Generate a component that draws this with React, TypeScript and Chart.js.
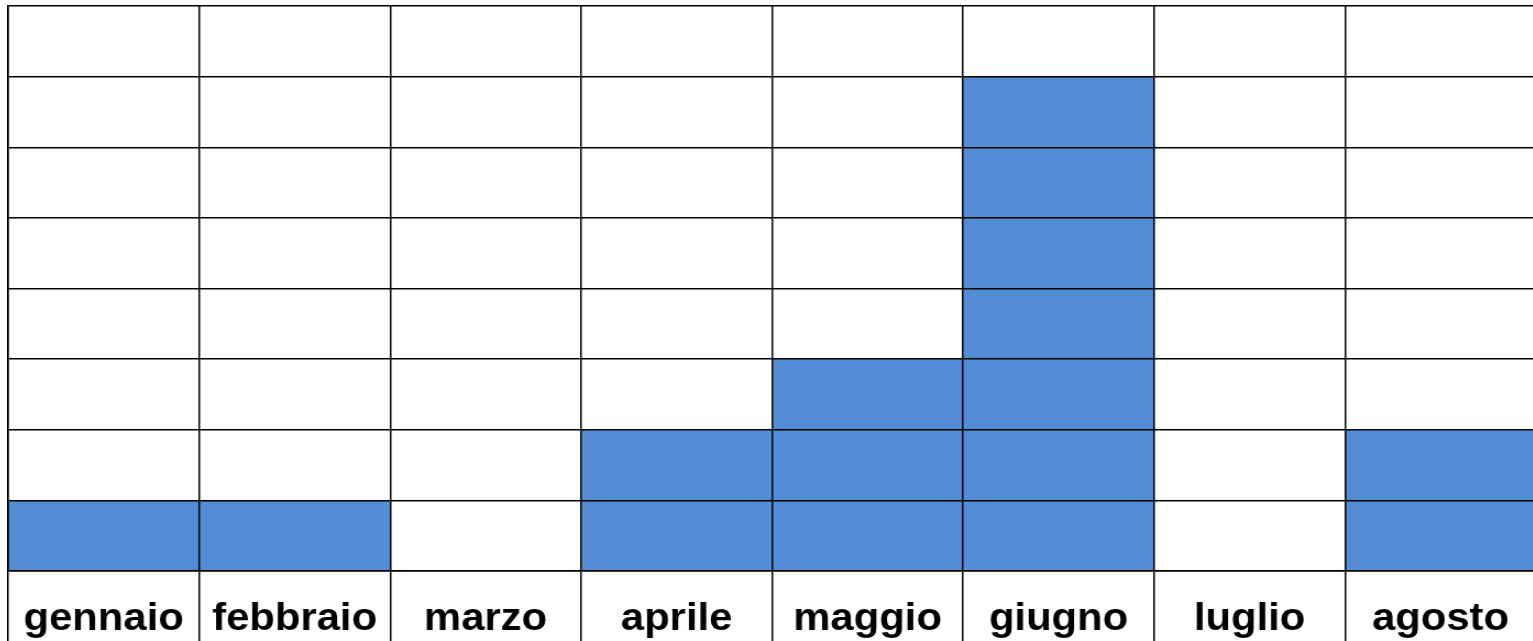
import React, { useEffect, useRef } from 'react';
import { Chart, registerables } from 'chart.js';

Chart.register(...registerables);

const months = ['gennaio', 'febbraio', 'marzo', 'aprile', 'maggio', 'giugno', 'luglio', 'agosto'];
const counts = [1, 1, 0, 2, 3, 7, 0, 2];
const yMin = 0;
const yMax = 8;
const yStep = 1;

// the reference picture is slightly stretched horizontally
const STRETCH = 1.1;
const CSS_W = 1529;
const CSS_H = 642;

export default function App() {
  const ref = useRef<HTMLCanvasElement>(null);

  useEffect(() => {
    if (!ref.current) return;
    const chart = new Chart(ref.current, {
      type: 'bar',
      data: {
        labels: months,
        datasets: [
          {
            data: counts,
            backgroundColor: '#538DD5',
            borderWidth: 0,
            categoryPercentage: 1,
            barPercentage: 1,
          },
        ],
      },
      options: {
        animation: false,
        responsive: false,
        devicePixelRatio: 1,
        layout: { padding: { left: 1, right: 0, top: 1, bottom: 74 } },
        plugins: { legend: { display: false }, tooltip: { enabled: false } },
        scales: {
          x: {
            offset: true,
            grid: {
              z: 1,
              offset: true,
              color: '#000',
              lineWidth: 1.5,
              drawTicks: true,
              tickLength: 100,
              tickColor: '#000',
              tickWidth: 1.5,
            },
            border: { z: 1, color: '#000', width: 1.5 },
            ticks: {
              z: 1,
              mirror: true,
              color: '#000',
              font: { family: '"Liberation Sans", Arial, sans-serif', size: 38, weight: 'bold', lineHeight: 0.01 },
              padding: -49,
              maxRotation: 0,
              autoSkip: false,
            },
          },
          y: {
            min: yMin,
            max: yMax,
            ticks: { display: false, stepSize: yStep },
            grid: { z: 1, color: '#000', lineWidth: 1.5, drawTicks: false },
            border: { z: 1, color: '#000', width: 1.5 },
          },
        },
      },
    });
    return () => chart.destroy();
  }, []);

  return (
    <div style={{ position: 'absolute', left: 7, top: 5, width: 1526, height: 636, overflow: 'hidden' }}>
      <canvas
        ref={ref}
        width={Math.round(CSS_W / STRETCH)}
        height={CSS_H}
        style={{ display: 'block', width: CSS_W, height: CSS_H }}
      />
    </div>
  );
}
